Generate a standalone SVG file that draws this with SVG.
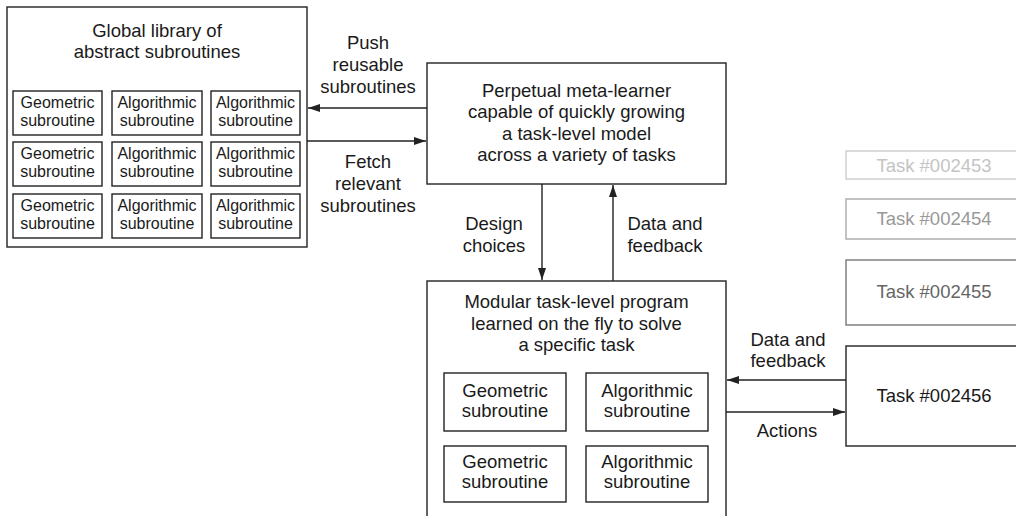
<svg xmlns="http://www.w3.org/2000/svg" width="1016" height="516" viewBox="0 0 1016 516">
<style>
.box{fill:#fff;stroke:#222;stroke-width:1.4}
.t{font-family:"Liberation Sans",Arial,sans-serif;font-size:18.5px;fill:#1a1a1a;text-anchor:middle}
.s{font-family:"Liberation Sans",Arial,sans-serif;font-size:16px;fill:#1a1a1a;text-anchor:middle}
.ln{stroke:#222;stroke-width:1.4;fill:none;marker-end:url(#ah)}
</style>
<defs>
<marker id="ah" markerUnits="userSpaceOnUse" markerWidth="13" markerHeight="8" refX="12" refY="4" orient="auto">
<path d="M0,0 L12,4 L0,8 z" fill="#222"/>
</marker>
</defs>
<rect width="1016" height="516" fill="#fff"/>
<g id="library">
<rect class="box" x="7" y="7" width="300" height="240"/>
<text class="t" x="157" y="37">Global library of</text>
<text class="t" x="157" y="58">abstract subroutines</text>
<g id="lib-r1c1"><rect class="box" x="13" y="91" width="89" height="44"/><text class="s" x="57.5" y="108">Geometric</text><text class="s" x="57.5" y="126">subroutine</text></g>
<g id="lib-r1c2"><rect class="box" x="112" y="91" width="90" height="44"/><text class="s" x="157" y="108">Algorithmic</text><text class="s" x="157" y="126">subroutine</text></g>
<g id="lib-r1c3"><rect class="box" x="211" y="91" width="89" height="44"/><text class="s" x="255.5" y="108">Algorithmic</text><text class="s" x="255.5" y="126">subroutine</text></g>
<g id="lib-r2c1"><rect class="box" x="13" y="142" width="89" height="44"/><text class="s" x="57.5" y="159">Geometric</text><text class="s" x="57.5" y="177">subroutine</text></g>
<g id="lib-r2c2"><rect class="box" x="112" y="142" width="90" height="44"/><text class="s" x="157" y="159">Algorithmic</text><text class="s" x="157" y="177">subroutine</text></g>
<g id="lib-r2c3"><rect class="box" x="211" y="142" width="89" height="44"/><text class="s" x="255.5" y="159">Algorithmic</text><text class="s" x="255.5" y="177">subroutine</text></g>
<g id="lib-r3c1"><rect class="box" x="13" y="194" width="89" height="44"/><text class="s" x="57.5" y="211">Geometric</text><text class="s" x="57.5" y="229">subroutine</text></g>
<g id="lib-r3c2"><rect class="box" x="112" y="194" width="90" height="44"/><text class="s" x="157" y="211">Algorithmic</text><text class="s" x="157" y="229">subroutine</text></g>
<g id="lib-r3c3"><rect class="box" x="211" y="194" width="89" height="44"/><text class="s" x="255.5" y="211">Algorithmic</text><text class="s" x="255.5" y="229">subroutine</text></g>
</g>
<g id="meta-learner">
<rect class="box" x="427" y="63" width="299" height="121"/>
<text class="t" x="576.5" y="97">Perpetual meta-learner</text>
<text class="t" x="576.5" y="118">capable of quickly growing</text>
<text class="t" x="576.5" y="140">a task-level model</text>
<text class="t" x="576.5" y="161">across a variety of tasks</text>
</g>
<g id="modular-program">
<rect class="box" x="427" y="281" width="299" height="260"/>
<text class="t" x="576.5" y="308">Modular task-level program</text>
<text class="t" x="576.5" y="330">learned on the fly to solve</text>
<text class="t" x="576.5" y="351">a specific task</text>
<g id="mod-r1c1"><rect class="box" x="444" y="373" width="122" height="58"/><text class="t" x="505" y="397">Geometric</text><text class="t" x="505" y="417">subroutine</text></g>
<g id="mod-r1c2"><rect class="box" x="586" y="373" width="122" height="58"/><text class="t" x="647" y="397">Algorithmic</text><text class="t" x="647" y="417">subroutine</text></g>
<g id="mod-r2c1"><rect class="box" x="444" y="446" width="122" height="56"/><text class="t" x="505" y="468">Geometric</text><text class="t" x="505" y="488">subroutine</text></g>
<g id="mod-r2c2"><rect class="box" x="586" y="446" width="122" height="56"/><text class="t" x="647" y="468">Algorithmic</text><text class="t" x="647" y="488">subroutine</text></g>
</g>
<g id="task-002453">
<rect x="846" y="151" width="200" height="28" fill="#fff" stroke="#ccc" stroke-width="1.4"/>
<text class="t" x="934" y="172" style="fill:#c4c4c4">Task #002453</text>
</g>
<g id="task-002454">
<rect x="846" y="199" width="200" height="40" fill="#fff" stroke="#aaa" stroke-width="1.4"/>
<text class="t" x="934" y="225" style="fill:#999">Task #002454</text>
</g>
<g id="task-002455">
<rect x="846" y="260" width="200" height="65" fill="#fff" stroke="#777" stroke-width="1.4"/>
<text class="t" x="934" y="298" style="fill:#666">Task #002455</text>
</g>
<g id="task-002456">
<rect class="box" x="846" y="346" width="200" height="100"/>
<text class="t" x="934" y="402">Task #002456</text>
</g>
<g id="connectors">
<line class="ln" x1="427" y1="108" x2="308" y2="108"/>
<line class="ln" x1="307" y1="141" x2="426" y2="141"/>
<line class="ln" x1="542" y1="184" x2="542" y2="280"/>
<line class="ln" x1="613" y1="281" x2="613" y2="185"/>
<line class="ln" x1="846" y1="380" x2="727" y2="380"/>
<line class="ln" x1="726" y1="412" x2="845" y2="412"/>
<text class="t" x="368" y="49">Push</text>
<text class="t" x="368" y="71">reusable</text>
<text class="t" x="368" y="93">subroutines</text>
<text class="t" x="368" y="168">Fetch</text>
<text class="t" x="368" y="190">relevant</text>
<text class="t" x="368" y="212">subroutines</text>
<text class="t" x="494" y="230">Design</text>
<text class="t" x="494" y="252">choices</text>
<text class="t" x="665" y="230">Data and</text>
<text class="t" x="665" y="252">feedback</text>
<text class="t" x="788" y="346">Data and</text>
<text class="t" x="788" y="367">feedback</text>
<text class="t" x="787" y="437">Actions</text>
</g>
</svg>
